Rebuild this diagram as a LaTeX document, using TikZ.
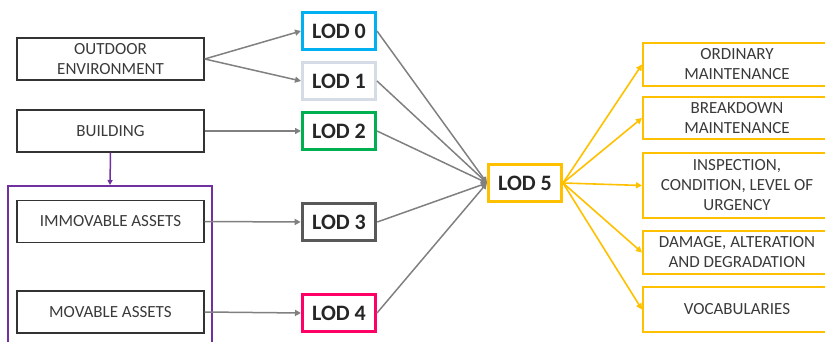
\documentclass[tikz,border=0pt]{standalone}
\usepackage{fontspec}
\setmainfont{Carlito}
\usepackage{tikz}
\usetikzlibrary{arrows.meta}

\definecolor{lodcyan}{HTML}{00B0F0}
\definecolor{lodpale}{HTML}{D6DCE5}
\definecolor{lodgreen}{HTML}{00B050}
\definecolor{loddark}{HTML}{595959}
\definecolor{lodpink}{HTML}{FF0066}
\definecolor{lodgold}{HTML}{FFC000}
\definecolor{assetpurple}{HTML}{7030A0}
\definecolor{linkgray}{HTML}{808080}
\definecolor{txtgray}{HTML}{3A3A3A}

\tikzset{
  srcbox/.style={draw=black!80, line width=1.4pt, minimum width=187pt, minimum height=42pt,
    inner sep=0pt, align=center, text=txtgray, font=\fontsize{17}{20}\selectfont},
  lodbox/.style={line width=3pt, minimum width=73pt, minimum height=37pt, inner sep=0pt,
    text=black!85, font=\fontsize{22}{26}\selectfont\bfseries},
  taskbox/.style={draw=lodgold, line width=2pt, minimum width=188pt, inner sep=0pt,
    align=center, text=txtgray, font=\fontsize{17}{20}\selectfont},
  graylink/.style={draw=linkgray, line width=1.5pt, -{Triangle[length=6pt,width=6pt]}},
  goldlink/.style={draw=lodgold, line width=1.6pt, -{Triangle[length=6pt,width=6pt]}}
}

\begin{document}
\begin{tikzpicture}[x=1pt,y=-1pt]
  \useasboundingbox (0,0) rectangle (825,342);

  % container for the assets
  \node[draw=assetpurple, line width=2pt, minimum width=204pt, minimum height=170pt] (assets) at (110,271) {};

  % sources
  \node[srcbox] (outdoor) at (110.5,59) {OUTDOOR\\ENVIRONMENT};
  \node[srcbox] (building) at (110.5,131) {BUILDING};
  \node[srcbox] (immovable) at (110.5,221.5) {IMMOVABLE ASSETS};
  \node[srcbox] (movable) at (110.5,312) {MOVABLE ASSETS};

  % levels of detail
  \foreach \n/\y/\c/\w in {0/31/lodcyan/3pt, 1/81/lodpale/3pt, 2/131/lodgreen/3pt,
                           3/222/loddark/3.6pt, 4/313/lodpink/3pt}{
    \node[lodbox, draw=\c, line width=\w] (lod\n) at (339,\y) {LOD \n};
  };
  \node[lodbox, draw=lodgold] (lod5) at (525,183) {LOD 5};

  % tasks
  \foreach \k/\y/\h/\txt in {1/64.5/43/{ORDINARY\\MAINTENANCE},
                             2/118/42/{BREAKDOWN\\MAINTENANCE},
                             3/185.5/65/{INSPECTION,\\CONDITION, LEVEL OF\\URGENCY},
                             4/252.5/43/{DAMAGE, ALTERATION\\AND DEGRADATION},
                             5/309.5/45/{VOCABULARIES}}{
    \node[taskbox, minimum height=\h pt] (task\k) at (737,\y) {\txt};
  };

  % links
  \draw[graylink] (outdoor.east) -- (lod0.west);
  \draw[graylink] (outdoor.east) -- (lod1.west);
  \draw[graylink] (building.east) -- (lod2.west);
  \draw[graylink] (immovable.east) -- (lod3.west);
  \draw[graylink] (movable.east) -- (lod4.west);
  \draw[draw=assetpurple, line width=1.5pt, -{Triangle[length=5pt,width=5pt]}] (building.south) -- (assets.north);

  \foreach \n in {0,...,4}{
    \draw[graylink] (lod\n.east) -- (lod5.west);
  };
  \foreach \k in {1,...,5}{
    \draw[goldlink] (lod5.east) -- (task\k.west);
  };

\end{tikzpicture}
\end{document}
